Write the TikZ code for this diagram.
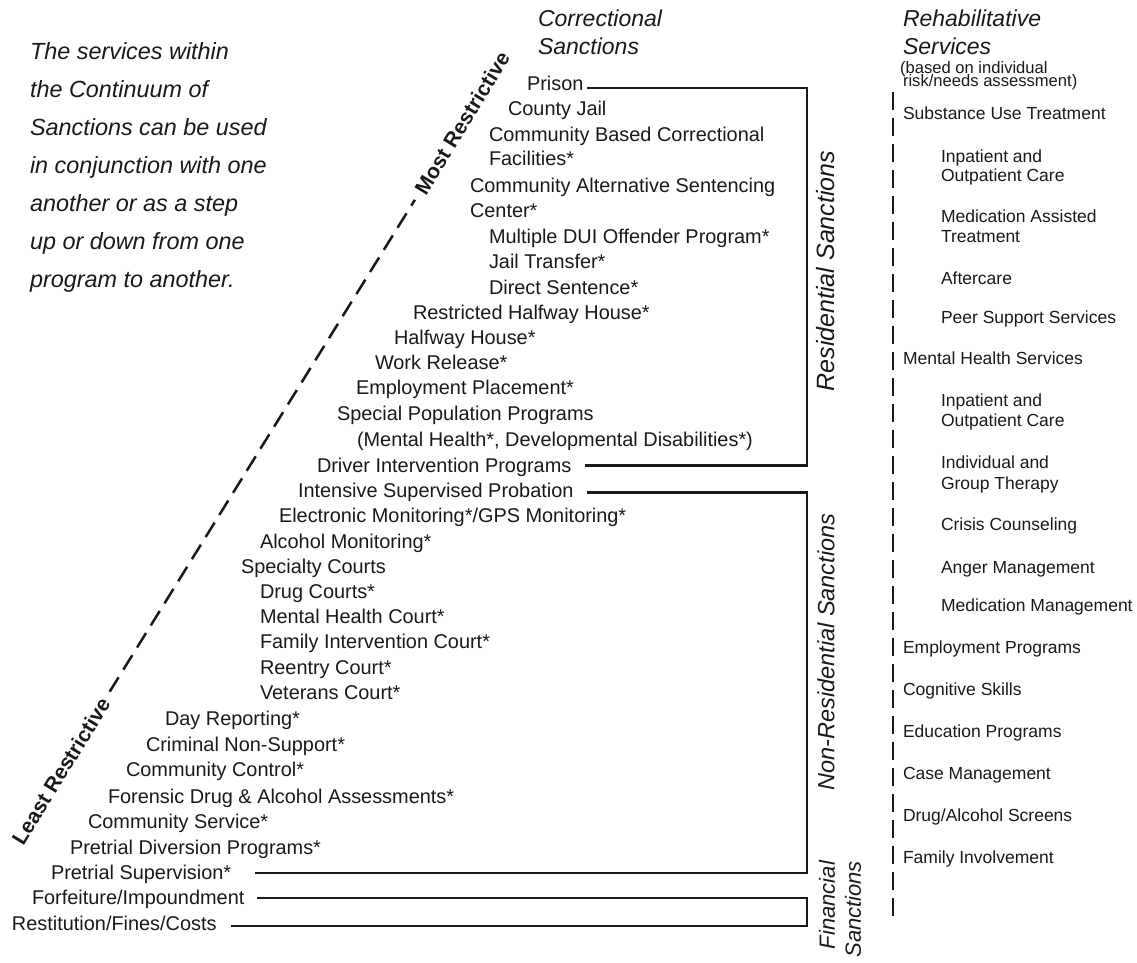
\documentclass[tikz,border=0pt]{standalone}
\usepackage{fontspec}
\setmainfont{Liberation Sans}
\begin{document}
\begin{tikzpicture}[x=1pt,y=-1pt,
  every node/.style={inner sep=0pt, outer sep=0pt, text=black!90},
  item/.style={anchor=base west, font=\fontsize{19.9}{22}\selectfont},
  rehab/.style={anchor=base west, font=\fontsize{17.5}{20}\selectfont},
  small/.style={anchor=base west, font=\fontsize{16.6}{18}\selectfont},
  head/.style={anchor=base west, font=\fontsize{23}{28}\selectfont\itshape},
  para/.style={anchor=base west, font=\fontsize{23.4}{28}\selectfont\itshape},
  vlabel/.style={rotate=90, font=\fontsize{23.5}{28}\selectfont\itshape},
  flabel/.style={rotate=90, anchor=east, font=\fontsize{22}{26}\selectfont\itshape},
  diaglabel/.style={rotate=58.5, font=\fontsize{21}{24}\selectfont\bfseries},
  boxline/.style={line width=2.2pt, draw=black!90},
  dashline/.style={line width=2.5pt, draw=black!90, dash pattern=on 17pt off 9pt},
]
\useasboundingbox (0,0) rectangle (1137,962);

% explanatory paragraph
\node[para] (p1) at (30,59)  {The services within};
\node[para] (p2) at (30,97)  {the Continuum of};
\node[para] (p3) at (30,135) {Sanctions can be used};
\node[para] (p4) at (30,173) {in conjunction with one};
\node[para] (p5) at (30,211) {another or as a step};
\node[para] (p6) at (30,249) {up or down from one};
\node[para] (p7) at (30,287) {program to another.};

% headers
\node[head] (ch1) at (538,26) {Correctional};
\node[head] (ch2) at (538,54) {Sanctions};
\node[head] (rh1) at (903,26) {Rehabilitative};
\node[head] (rh2) at (903,54) {Services};
\node[small] (rh3) at (900,73) {(based on individual};
\node[small] (rh4) at (903,86) {risk/needs assessment)};

% correctional sanctions
\node[item] (prison) at (527,90)  {Prison};
\node[item] (cjail)  at (508,115) {County Jail};
\node[item] (cbcf)   at (489,141) {Community Based Correctional};
\node[item] (cbcfb)  at (489,165) {Facilities*};
\node[item] (cas)    at (470,192) {Community Alternative Sentencing};
\node[item] (casb)   at (470,217) {Center*};
\node[item] (dui)    at (489,243) {Multiple DUI Offender Program*};
\node[item] (jail)   at (489,268) {Jail Transfer*};
\node[item] (direct) at (489,294) {Direct Sentence*};
\node[item] (rhh)    at (413,319) {Restricted Halfway House*};
\node[item] (hh)     at (394,344) {Halfway House*};
\node[item] (wr)     at (375,369) {Work Release*};
\node[item] (ep)     at (356,394) {Employment Placement*};
\node[item] (spp)    at (337,420) {Special Population Programs};
\node[item] (sppb)   at (357,446) {(Mental Health*, Developmental Disabilities*)};
\node[item] (dip)    at (317,472) {Driver Intervention Programs};
\node[item] (isp)    at (298,497) {Intensive Supervised Probation};
\node[item] (em)     at (279,522) {Electronic Monitoring*/GPS Monitoring*};
\node[item] (am)     at (260,548) {Alcohol Monitoring*};
\node[item] (sc)     at (241,573) {Specialty Courts};
\node[item] (dc)     at (260,598) {Drug Courts*};
\node[item] (mhc)    at (260,623) {Mental Health Court*};
\node[item] (fic)    at (260,648) {Family Intervention Court*};
\node[item] (rc)     at (260,674) {Reentry Court*};
\node[item] (vc)     at (260,699) {Veterans Court*};
\node[item] (dr)     at (165,725) {Day Reporting*};
\node[item] (cns)    at (146,751) {Criminal Non-Support*};
\node[item] (cc)     at (126,776) {Community Control*};
\node[item] (fda)    at (108,803) {Forensic Drug \& Alcohol Assessments*};
\node[item] (cs)     at (88,828)  {Community Service*};
\node[item] (pdp)    at (70,854)  {Pretrial Diversion Programs*};
\node[item] (ps)     at (51,879)  {Pretrial Supervision*};
\node[item] (fi)     at (32,904)  {Forfeiture/Impoundment};
\node[item] (rfc)    at (12,930)  {Restitution/Fines/Costs};

% brackets
\coordinate (rx) at (807,0);
\coordinate (r1) at ([xshift=4pt,yshift=2pt]prison.base east);
\coordinate (r2) at ([xshift=14pt,yshift=6.5pt]dip.base east);
\draw[boxline] (r1) -| (rx |- r2) -- (r2);
\coordinate (n1) at ([xshift=14pt,yshift=4.5pt]isp.base east);
\coordinate (n2) at ([xshift=24pt,yshift=6pt]ps.base east);
\draw[boxline] (n1) -| (rx |- n2) -- (n2);
\coordinate (f1) at ([xshift=13pt,yshift=6pt]fi.base east);
\coordinate (f2) at ([xshift=14pt,yshift=4pt]rfc.base east);
\draw[boxline] (f1) -| (rx |- f2) -- (f2);

% bracket labels
\node[vlabel, font=\fontsize{25}{30}\selectfont\itshape] (res) at (826,271) {Residential Sanctions};
\node[vlabel] (nonres) at (826,652) {Non-Residential Sanctions};
\node[flabel] (fin1) at (827,861) {Financial};
\node[flabel] (fin2) at (853,861) {Sanctions};

% restrictiveness axis
\node[diaglabel] (least) at (61,771) {Least Restrictive};
\node[diaglabel] (most) at (462,123) {Most Restrictive};
\draw[dashline, shorten <=9pt, shorten >=9pt] (least.east) -- (most.west);

% rehabilitative services
\node[rehab] (sut)  at (903,119) {Substance Use Treatment};
\node[rehab] (ipa)  at (941,162) {Inpatient and};
\node[rehab] (ipb)  at (941,181) {Outpatient Care};
\node[rehab] (mata) at (941,222) {Medication Assisted};
\node[rehab] (matb) at (941,242) {Treatment};
\node[rehab] (ac)   at (941,284) {Aftercare};
\node[rehab] (pss)  at (941,323) {Peer Support Services};
\node[rehab] (mhs)  at (903,364) {Mental Health Services};
\node[rehab] (ip2a) at (941,406) {Inpatient and};
\node[rehab] (ip2b) at (941,426) {Outpatient Care};
\node[rehab] (igta) at (941,468) {Individual and};
\node[rehab] (igtb) at (941,489) {Group Therapy};
\node[rehab] (crc)  at (941,530) {Crisis Counseling};
\node[rehab] (anm)  at (941,573) {Anger Management};
\node[rehab] (mdm)  at (941,611) {Medication Management};
\node[rehab] (emp)  at (903,653) {Employment Programs};
\node[rehab] (cog)  at (903,695) {Cognitive Skills};
\node[rehab] (edu)  at (903,737) {Education Programs};
\node[rehab] (cm)   at (903,779) {Case Management};
\node[rehab] (das)  at (903,821) {Drug/Alcohol Screens};
\node[rehab] (fam)  at (903,863) {Family Involvement};

\coordinate (dtop) at (893,92);
\coordinate (dbot) at (893,922);
\draw[dashline, dash pattern=on 18pt off 8pt] (dtop) -- (dbot);
\end{tikzpicture}
\end{document}
